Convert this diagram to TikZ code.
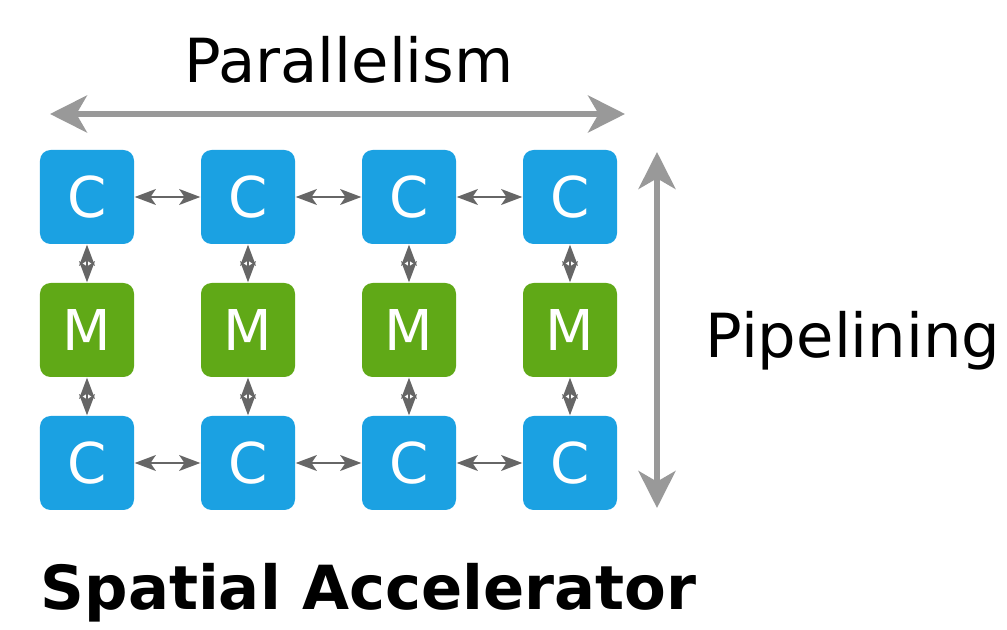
\documentclass[tikz,border=0pt]{standalone}
\usepackage{fontspec}
\setmainfont{DejaVu Sans}
\usetikzlibrary{positioning, arrows.meta}
\definecolor{cblue}{HTML}{1BA1E2}
\definecolor{mgreen}{HTML}{60A917}
\definecolor{axisgray}{HTML}{999999}
\definecolor{linkgray}{HTML}{666666}

\begin{document}
\begin{tikzpicture}
	[on grid, node distance=1.33cm and 1.61cm,
	 unit/.style={rectangle, rounded corners=3pt, minimum size=0.94cm, inner sep=0pt,
	   text=white, font=\fontsize{16}{16}\selectfont},
	 comp/.style={unit, fill=cblue},
	 mem/.style={unit, fill=mgreen},
	 link/.style={{Stealth[length=6pt,width=4.5pt,inset=1.5pt]}-{Stealth[length=6pt,width=4.5pt,inset=1.5pt]},
	   draw=linkgray, fill=linkgray, line width=0.6pt},
	 axis/.style={{Stealth[length=10.5pt,width=10.5pt,inset=3pt]}-{Stealth[length=10.5pt,width=10.5pt,inset=3pt]},
	   draw=axisgray, fill=axisgray, line width=1.7pt},
	 label/.style={inner sep=0pt, font=\fontsize{17.3}{17.3}\selectfont}]
   \useasboundingbox (0,0) rectangle (10.07,6.29);

   \node[comp] (t_1) at (0.87,4.32) {C};
   \node[comp] (t_2) [right=of t_1] {C};
   \node[comp] (t_3) [right=of t_2] {C};
   \node[comp] (t_4) [right=of t_3] {C};
   \node[mem]  (m_1) [below=of t_1] {M};
   \node[mem]  (m_2) [right=of m_1] {M};
   \node[mem]  (m_3) [right=of m_2] {M};
   \node[mem]  (m_4) [right=of m_3] {M};
   \node[comp] (b_1) [below=of m_1] {C};
   \node[comp] (b_2) [right=of b_1] {C};
   \node[comp] (b_3) [right=of b_2] {C};
   \node[comp] (b_4) [right=of b_3] {C};

   \coordinate (par_l) at (0.50,5.15);
   \coordinate (par_r) at (6.25,5.15);
   \coordinate (pipe_t) at (6.57,4.77);
   \coordinate (pipe_b) at (6.57,1.21);

   \node[label] (par) at (3.49,5.69) {Parallelism};
   \node[label, anchor=base west] (pipe) at (7.05,2.71) {Pipelining};
   \node[inner sep=0pt, anchor=base west, font=\fontsize{17.3}{17.3}\selectfont\bfseries] (title) at (0.40,0.19) {Spatial Accelerator};

   \path[link]
    (t_1) edge (t_2)
    (t_2) edge (t_3)
    (t_3) edge (t_4)
    (b_1) edge (b_2)
    (b_2) edge (b_3)
    (b_3) edge (b_4)
    (t_1) edge (m_1)
    (t_2) edge (m_2)
    (t_3) edge (m_3)
    (t_4) edge (m_4)
    (m_1) edge (b_1)
    (m_2) edge (b_2)
    (m_3) edge (b_3)
    (m_4) edge (b_4);

   \draw[axis] (par_l) -- (par_r);
   \draw[axis] (pipe_t) -- (pipe_b);

\end{tikzpicture}
\end{document}
